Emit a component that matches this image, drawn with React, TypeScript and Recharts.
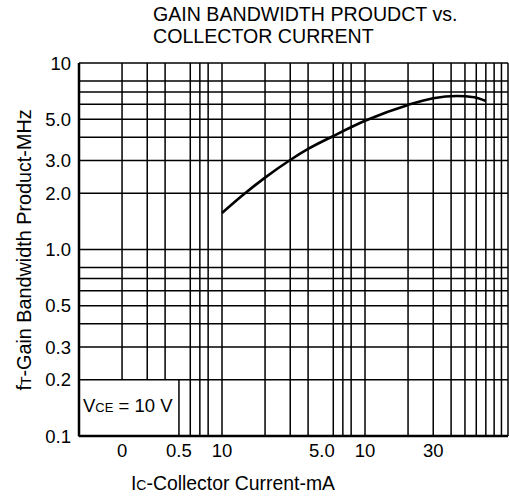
import React from 'react';
import { LineChart, Line, XAxis, YAxis, CartesianGrid, ReferenceArea } from 'recharts';

// collector current, mA
const currentMa = [1, 1.4, 2, 3, 4, 6, 10, 20, 30, 44, 58, 70];
// gain bandwidth product, MHz
const ftMhz = [1.57, 1.96, 2.43, 3.02, 3.46, 4.06, 4.9, 5.96, 6.47, 6.65, 6.55, 6.25];

const xTicks = [0.2, 0.5, 1, 5, 10, 30];
const xTickLabels = ['0', '0.5', '10', '5.0', '10', '30'];
const yTicks = [0.1, 0.2, 0.3, 0.5, 1, 2, 3, 5, 10];
const yTickLabels = ['0.1', '0.2', '0.3', '0.5', '1.0', '2.0', '3.0', '5.0', '10'];

const decadeSteps = [1, 2, 3, 4, 5, 6, 7, 8, 9];
const xGrid = [0.1, 1, 10].flatMap(d => decadeSteps.map(s => +(d * s).toFixed(2))).concat([100]);
const yGrid = [0.1, 1].flatMap(d => decadeSteps.map(s => +(d * s).toFixed(2))).concat([10]);

const data = currentMa.map((ic, i) => ({ ic, ft: ftMhz[i] }));

const FONT = 'Liberation Sans, Arial, sans-serif';

const VceLabel = (props: any) => {
  const { viewBox } = props;
  if (!viewBox) return null;
  return (
    <text x={viewBox.x + 4} y={viewBox.y + viewBox.height - 24} fontFamily={FONT} fontSize={18.5} fill="#000">
      V<tspan fontSize={13}>CE</tspan>
      <tspan> = 10 V</tspan>
    </text>
  );
};

export default function App() {
  return (
    <div style={{ position: 'absolute', left: 0, top: 0, background: '#fff' }}>
      <LineChart
        width={509}
        height={498}
        data={data}
        margin={{ top: 63, right: 1, bottom: 0, left: 0 }}
        style={{ fontFamily: FONT }}
      >
        <CartesianGrid
          stroke="#000"
          strokeWidth={1.5}
          strokeOpacity={1}
          horizontalValues={yGrid}
          verticalValues={xGrid}
        />
        <XAxis
          dataKey="ic"
          type="number"
          scale="log"
          domain={[0.1, 100]}
          allowDataOverflow
          ticks={xTicks}
          tickFormatter={(v: number) => xTickLabels[xTicks.indexOf(v)] ?? ''}
          height={62}
          tickLine={false}
          tickSize={0}
          tickMargin={8}
          axisLine={{ stroke: '#000', strokeWidth: 2.5 }}
          tick={{ fill: '#000', fontSize: 18.5, fontFamily: FONT }}
        />
        <YAxis
          type="number"
          scale="log"
          domain={[0.1, 10]}
          allowDataOverflow
          ticks={yTicks}
          tickFormatter={(v: number) => yTickLabels[yTicks.indexOf(v)] ?? ''}
          width={79}
          tickLine={false}
          tickSize={0}
          tickMargin={8}
          axisLine={{ stroke: '#000', strokeWidth: 2.5 }}
          tick={{ fill: '#000', fontSize: 18.5, fontFamily: FONT }}
        />
        <ReferenceArea
          x1={0.1}
          x2={0.5}
          y1={0.1}
          y2={0.2}
          fill="#fff"
          fillOpacity={1}
          stroke="#000"
          strokeWidth={1.5}
          ifOverflow="visible"
          label={<VceLabel />}
        />
        <Line
          type="monotone"
          dataKey="ft"
          stroke="#000"
          strokeWidth={2.6}
          dot={false}
          isAnimationActive={false}
        />
        <text x={153} y={21} fontFamily={FONT} fontSize={19.6} fill="#000">
          GAIN BANDWIDTH PROUDCT vs.
        </text>
        <text x={153} y={43} fontFamily={FONT} fontSize={19.6} fill="#000">
          COLLECTOR CURRENT
        </text>
        <text
          x={0}
          y={0}
          transform="translate(31, 250) rotate(-90)"
          textAnchor="middle"
          fontFamily={FONT}
          fontSize={19.8}
          fill="#000"
        >
          f<tspan fontSize={14}>T</tspan>
          <tspan>-Gain Bandwidth Product-MHz</tspan>
        </text>
        <text x={233} y={490} textAnchor="middle" fontFamily={FONT} fontSize={19.4} fill="#000">
          I<tspan fontSize={14}>C</tspan>
          <tspan>-Collector Current-mA</tspan>
        </text>
      </LineChart>
    </div>
  );
}
